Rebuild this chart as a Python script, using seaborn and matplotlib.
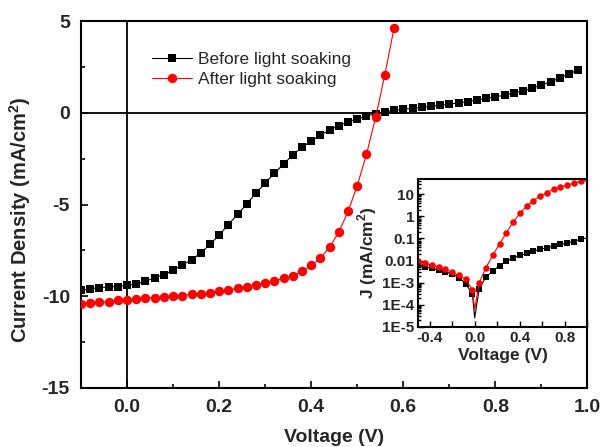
import numpy as np
import matplotlib
matplotlib.use("Agg")
import matplotlib.pyplot as plt
import seaborn as sns
from matplotlib.ticker import MultipleLocator, FixedLocator, FixedFormatter, LogLocator, NullFormatter

# ---------------- data (main J-V under illumination) ----------------
v_before = [-0.10, -0.08, -0.06, -0.04, -0.02, 0.00, 0.02, 0.04, 0.06, 0.08,
            0.10, 0.12, 0.14, 0.16, 0.18, 0.20, 0.22, 0.24, 0.26, 0.28,
            0.30, 0.32, 0.34, 0.36, 0.38, 0.40, 0.42, 0.44, 0.46, 0.48,
            0.50, 0.52, 0.54, 0.56, 0.58, 0.60, 0.62, 0.64, 0.66, 0.68,
            0.70, 0.72, 0.74, 0.76, 0.78, 0.80, 0.82, 0.84, 0.86, 0.88,
            0.90, 0.92, 0.94, 0.96, 0.98]
j_before = [-9.67, -9.60, -9.53, -9.49, -9.47, -9.40, -9.35, -9.17, -9.00, -8.82,
            -8.59, -8.30, -8.01, -7.65, -7.17, -6.67, -6.09, -5.54, -4.96, -4.38,
            -3.83, -3.30, -2.79, -2.30, -1.88, -1.54, -1.22, -0.93, -0.71, -0.50,
            -0.32, -0.18, -0.06, 0.04, 0.13, 0.18, 0.26, 0.29, 0.36, 0.40,
            0.47, 0.54, 0.61, 0.69, 0.78, 0.87, 0.96, 1.07, 1.20, 1.34,
            1.51, 1.68, 1.90, 2.12, 2.34]

v_after = [-0.10, -0.08, -0.06, -0.04, -0.02, 0.00, 0.02, 0.04, 0.06, 0.08,
           0.10, 0.12, 0.14, 0.16, 0.18, 0.20, 0.22, 0.24, 0.26, 0.28,
           0.30, 0.32, 0.34, 0.36, 0.38, 0.40, 0.42, 0.44, 0.46, 0.48,
           0.50, 0.52, 0.54, 0.56, 0.58]
j_after = [-10.40, -10.36, -10.29, -10.33, -10.22, -10.18, -10.16, -10.09, -10.07, -10.05,
           -10.00, -9.96, -9.89, -9.87, -9.82, -9.73, -9.67, -9.55, -9.49, -9.38,
           -9.28, -9.15, -9.02, -8.90, -8.64, -8.32, -7.92, -7.32, -6.50, -5.38,
           -3.97, -2.26, -0.25, 2.08, 4.64]

# ---------------- data (inset, dark |J| on log scale) ----------------
v_dark = [-0.50, -0.44, -0.38, -0.32, -0.26, -0.20, -0.14, -0.08, -0.02, 0.00,
          0.04, 0.10, 0.16, 0.22, 0.28, 0.34, 0.40, 0.46, 0.52, 0.58,
          0.64, 0.70, 0.76, 0.82, 0.88, 0.94, 1.00]
j_dark_before = [6.0e-3, 5.1e-3, 4.5e-3, 3.7e-3, 3.0e-3, 2.5e-3, 1.7e-3, 8.9e-4, 3.0e-4, 2.5e-5,
                 5.4e-4, 1.8e-3, 3.3e-3, 5.8e-3, 9.1e-3, 1.3e-2, 1.7e-2, 2.1e-2, 2.7e-2, 3.2e-2,
                 3.8e-2, 4.5e-2, 5.4e-2, 6.2e-2, 7.2e-2, 9.3e-2, 1.05e-1]
j_dark_after = [9.3e-3, 7.6e-3, 6.2e-3, 5.0e-3, 4.0e-3, 2.9e-3, 2.1e-3, 1.4e-3, 4.7e-4, 6.3e-5,
                9.8e-4, 4.8e-3, 1.7e-2, 5.6e-2, 0.18, 0.54, 1.35, 2.9, 5.2, 8.3,
                12.0, 16.6, 21.4, 26.3, 31.6, 38.0, 43.0]
marker_idx = [i for i, v in enumerate(v_dark) if v not in (0.00, 1.00)]

labels = ["Before light soaking", "After light soaking"]
inset_yticks = [1e-5, 1e-4, 1e-3, 1e-2, 1e-1, 1, 10]
inset_yticklabels = ["1E-5", "1E-4", "1E-3", "0.01", "0.1", "1", "10"]

# ---------------- style ----------------
sns.set_theme(style="ticks")
plt.rcParams["font.family"] = ["Liberation Sans", "DejaVu Sans"]
plt.rcParams["axes.unicode_minus"] = False
plt.rcParams["mathtext.fontset"] = "custom"
plt.rcParams["mathtext.rm"] = "Liberation Sans"
plt.rcParams["mathtext.bf"] = "Liberation Sans:bold"

fig = plt.figure(figsize=(6.01, 4.47), dpi=100)
ax = fig.add_axes([0.1348, 0.132, 0.9775 - 0.1348, 0.953 - 0.132])

ax.axhline(0, color="black", lw=1.3, zorder=1)
ax.axvline(0, color="black", lw=1.3, zorder=1)

sns.lineplot(x=v_before, y=j_before, ax=ax, color="black", marker="s", markersize=5.4,
             markeredgewidth=0, linewidth=0.8, label=labels[0], estimator=None, zorder=3)
sns.lineplot(x=v_after, y=j_after, ax=ax, color="#ff0000", marker="o", markersize=6.8,
             markeredgewidth=0, linewidth=0.8, label=labels[1], estimator=None, zorder=4)

ax.set_xlim(-0.1, 1.0)
ax.set_ylim(-15, 5)
ax.xaxis.set_major_locator(MultipleLocator(0.2))
ax.xaxis.set_minor_locator(MultipleLocator(0.1))
ax.yaxis.set_major_locator(MultipleLocator(5))
ax.yaxis.set_minor_locator(MultipleLocator(2.5))
ax.xaxis.set_major_formatter(matplotlib.ticker.FormatStrFormatter("%.1f"))
ax.yaxis.set_major_formatter(matplotlib.ticker.FormatStrFormatter("%d"))
ax.tick_params(which="both", direction="in", top=False, right=False, width=1.2, color="black")
ax.tick_params(which="major", length=5, pad=8)
ax.tick_params(which="minor", length=3)
for lab in ax.get_xticklabels() + ax.get_yticklabels():
    lab.set_fontweight("bold")
    lab.set_fontsize(14)
for sp in ax.spines.values():
    sp.set_linewidth(1.5)
    sp.set_color("black")
    sp.set_visible(True)
ax.set_xlabel("Voltage (V)", fontsize=14, fontweight="bold", labelpad=9)
ax.set_ylabel(r"Current Density (mA/cm$^{\mathbf{2}}$)", fontsize=14.5, fontweight="bold")
ax.yaxis.set_label_coords(-0.095, 0.46)

leg = ax.legend(loc="upper left", bbox_to_anchor=(0.14, 0.915), frameon=False,
                fontsize=12.5, handlelength=2.3, handletextpad=0.35, labelspacing=0.25,
                borderpad=0, borderaxespad=0)

# ---------------- inset ----------------
axi = fig.add_axes([0.696, 0.269, 0.9775 - 0.696, 0.599 - 0.269])
sns.lineplot(x=v_dark, y=j_dark_before, ax=axi, color="black", marker="s", markersize=3.8,
             markeredgewidth=0, linewidth=0.8, markevery=marker_idx, estimator=None, legend=False)
sns.lineplot(x=v_dark, y=j_dark_after, ax=axi, color="#ff0000", marker="o", markersize=4.7,
             markeredgewidth=0, linewidth=0.8, markevery=marker_idx, estimator=None, legend=False)
axi.set_yscale("log")
axi.set_xlim(-0.5, 1.0)
axi.set_ylim(1e-5, 48)
axi.xaxis.set_major_locator(FixedLocator([-0.4, 0.0, 0.4, 0.8]))
axi.xaxis.set_major_formatter(matplotlib.ticker.FormatStrFormatter("%.1f"))
axi.xaxis.set_minor_locator(MultipleLocator(0.2))
axi.yaxis.set_major_locator(FixedLocator(inset_yticks))
axi.yaxis.set_major_formatter(FixedFormatter(inset_yticklabels))
axi.yaxis.set_minor_locator(LogLocator(base=10, subs=np.arange(2, 10) * 0.1 * 10, numticks=20))
axi.yaxis.set_minor_formatter(NullFormatter())
axi.tick_params(which="both", direction="in", top=False, right=False, width=1.0, color="black")
axi.tick_params(which="major", length=4, pad=3)
axi.tick_params(which="minor", length=2)
axi.tick_params(axis="x", which="minor", length=4)
for lab in axi.get_xticklabels() + axi.get_yticklabels():
    lab.set_fontweight("bold")
    lab.set_fontsize(11)
for sp in axi.spines.values():
    sp.set_linewidth(1.5)
    sp.set_color("black")
    sp.set_visible(True)
axi.set_xlabel("Voltage (V)", fontsize=12.5, fontweight="bold", labelpad=2)
axi.set_ylabel(r"J (mA/cm$^{\mathbf{2}}$)", fontsize=12.5, fontweight="bold", labelpad=2)

fig.savefig("out.png", dpi=100)
